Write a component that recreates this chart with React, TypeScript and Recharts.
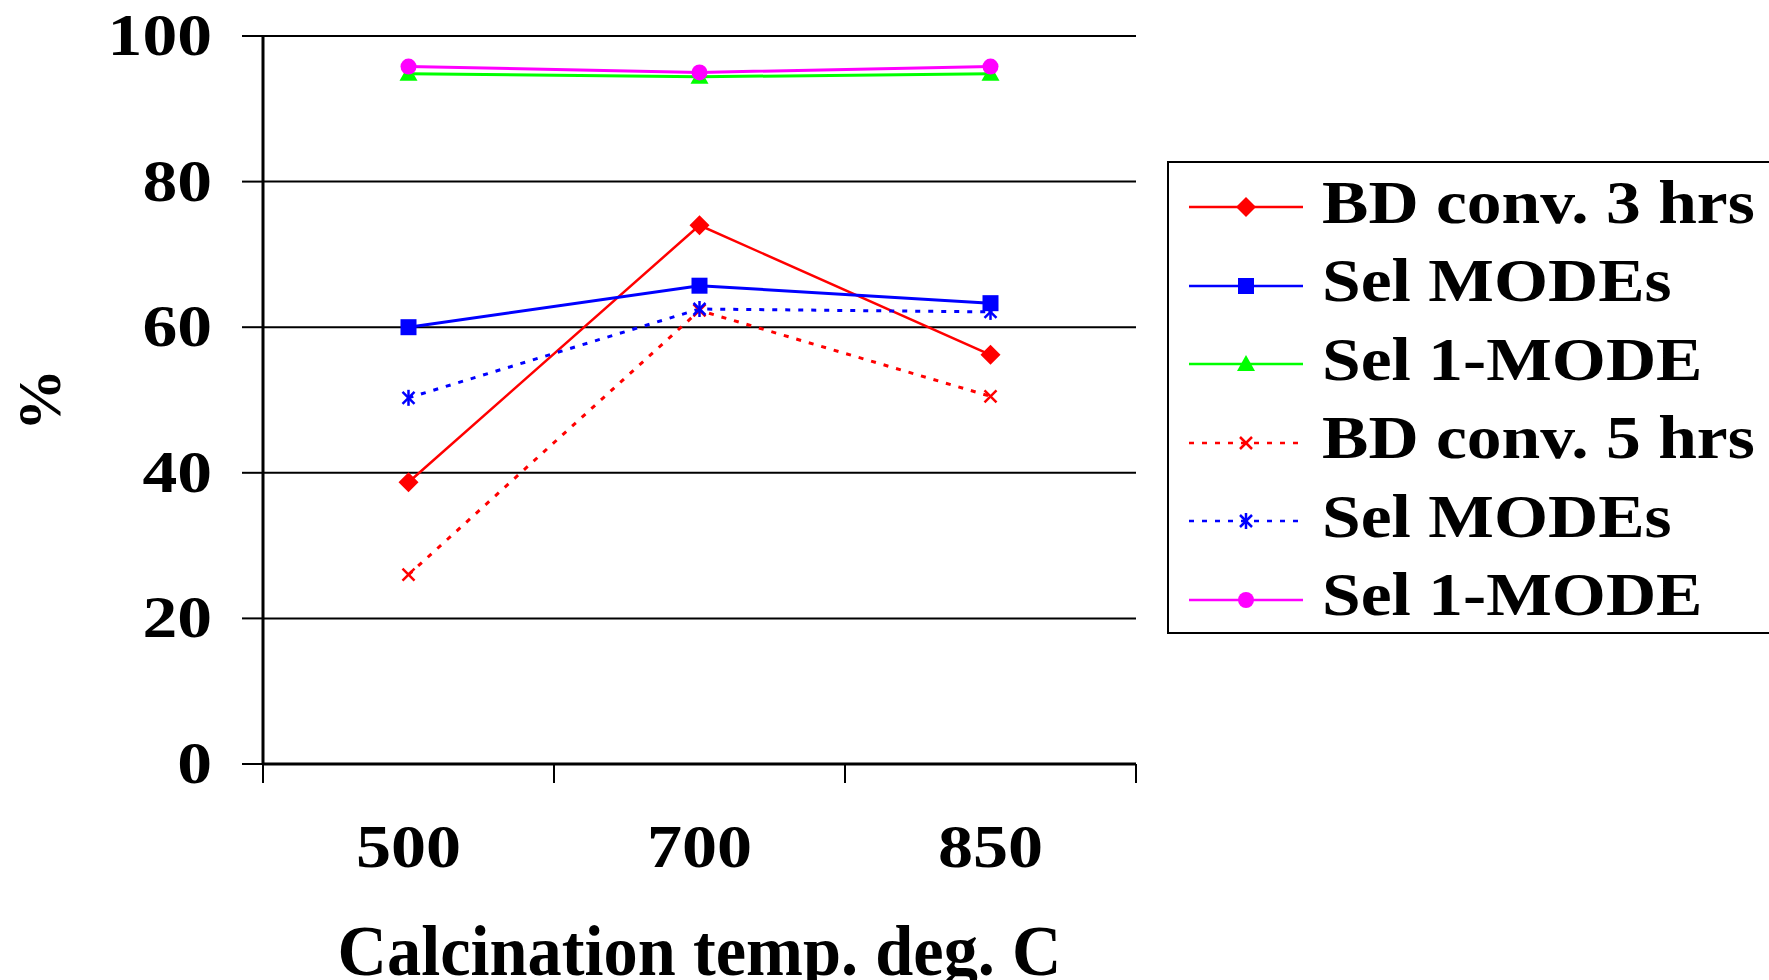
import React from "react";
import { CartesianGrid, Line, LineChart, XAxis, YAxis } from "recharts";

const categories = ["500", "700", "850"];
const bdConv3 = [38.7, 74.0, 56.2];
const selModes3 = [60.0, 65.7, 63.3];
const sel1Mode3 = [94.8, 94.4, 94.8];
const bdConv5 = [26.0, 62.3, 50.5];
const selModes5 = [50.3, 62.5, 62.1];
const sel1Mode5 = [95.8, 95.0, 95.8];
const yTicks = [0, 20, 40, 60, 80, 100];

type Shape = "diamond" | "square" | "triangle" | "cross" | "asterisk" | "circle";

const series: { key: string; name: string; values: number[]; color: string; dash?: string; width: number; shape: Shape }[] = [
  { key: "bd3", name: "BD conv. 3 hrs", values: bdConv3, color: "#FF0000", width: 2.5, shape: "diamond" },
  { key: "sel3", name: "Sel MODEs", values: selModes3, color: "#0000FF", width: 3, shape: "square" },
  { key: "one3", name: "Sel 1-MODE", values: sel1Mode3, color: "#00FF00", width: 3, shape: "triangle" },
  { key: "bd5", name: "BD conv. 5 hrs", values: bdConv5, color: "#FF0000", dash: "5 8", width: 3, shape: "cross" },
  { key: "sel5", name: "Sel MODEs", values: selModes5, color: "#0000FF", dash: "5 8", width: 3, shape: "asterisk" },
  { key: "one5", name: "Sel 1-MODE", values: sel1Mode5, color: "#FF00FF", width: 3, shape: "circle" },
];

const data = categories.map((temp, i) => {
  const row: Record<string, string | number> = { temp };
  series.forEach((s) => {
    row[s.key] = s.values[i];
  });
  return row;
});

const FONT = '"Liberation Serif", "Times New Roman", serif';
const WIDTH = 1769;
const HEIGHT = 980;
const MARGIN = { top: 36, right: 633, bottom: 0, left: 0 };
const Y_AXIS_WIDTH = 263;
const X_AXIS_HEIGHT = 216;
const PLOT_W = WIDTH - MARGIN.right - Y_AXIS_WIDTH;
const HALF_BAND = PLOT_W / categories.length / 2;

function Marker({ shape, cx, cy, color }: { shape: Shape; cx: number; cy: number; color: string }) {
  switch (shape) {
    case "diamond":
      return <polygon points={`${cx},${cy - 10} ${cx + 10},${cy} ${cx},${cy + 10} ${cx - 10},${cy}`} fill={color} />;
    case "square":
      return <rect x={cx - 8} y={cy - 8} width={16} height={16} fill={color} />;
    case "triangle":
      return <polygon points={`${cx},${cy - 9} ${cx + 9},${cy + 7} ${cx - 9},${cy + 7}`} fill={color} />;
    case "circle":
      return <circle cx={cx} cy={cy} r={8} fill={color} />;
    case "cross":
      return (
        <g stroke={color} strokeWidth={2.5}>
          <line x1={cx - 6} y1={cy - 6} x2={cx + 6} y2={cy + 6} />
          <line x1={cx - 6} y1={cy + 6} x2={cx + 6} y2={cy - 6} />
        </g>
      );
    default:
      return (
        <g stroke={color} strokeWidth={2.5}>
          <line x1={cx - 6} y1={cy - 6} x2={cx + 6} y2={cy + 6} />
          <line x1={cx - 6} y1={cy + 6} x2={cx + 6} y2={cy - 6} />
          <line x1={cx} y1={cy - 8} x2={cx} y2={cy + 8} />
        </g>
      );
  }
}

function XTick(props: any) {
  const { x, y, payload, index } = props;
  return (
    <g>
      <line x1={x - HALF_BAND} x2={x - HALF_BAND} y1={y} y2={y + 19} stroke="#000" strokeWidth={2} />
      {index === categories.length - 1 && (
        <line x1={x + HALF_BAND} x2={x + HALF_BAND} y1={y} y2={y + 19} stroke="#000" strokeWidth={2} />
      )}
      <text
        transform={`translate(${x},${y + 103}) scale(1.15,1)`}
        textAnchor="middle"
        fontFamily={FONT}
        fontWeight="bold"
        fontSize={61}
        fill="#000"
      >
        {payload.value}
      </text>
    </g>
  );
}

function YTick(props: any) {
  const { x, y, payload } = props;
  return (
    <text
      transform={`translate(${x},${y + 19}) scale(1.16,1)`}
      textAnchor="end"
      fontFamily={FONT}
      fontWeight="bold"
      fontSize={60}
      fill="#000"
    >
      {payload.value}
    </text>
  );
}

function LegendBox() {
  return (
    <div
      style={{
        position: "absolute",
        left: 1167,
        top: 161,
        width: 640,
        height: 473,
        boxSizing: "border-box",
        border: "2px solid #000",
        paddingTop: 5,
        background: "#fff",
      }}
    >
      {series.map((s) => (
        <div key={s.key} style={{ height: 78.5, display: "flex", alignItems: "center" }}>
          <svg width={116} height={30} style={{ marginLeft: 20, flex: "none" }}>
            <line x1={0} x2={114} y1={15} y2={15} stroke={s.color} strokeWidth={2.5} strokeDasharray={s.dash} />
            <Marker shape={s.shape} cx={57} cy={15} color={s.color} />
          </svg>
          <span
            style={{
              marginLeft: 17,
              display: "inline-block",
              position: "relative",
              top: -5,
              fontFamily: FONT,
              fontWeight: "bold",
              fontSize: 61,
              lineHeight: 1,
              whiteSpace: "nowrap",
              transform: "scaleX(1.14)",
              transformOrigin: "left center",
            }}
          >
            {s.name}
          </span>
        </div>
      ))}
    </div>
  );
}

export default function App() {
  return (
    <div style={{ position: "absolute", left: 0, top: 0, width: WIDTH, height: HEIGHT, overflow: "hidden", background: "#fff" }}>
      <LineChart width={WIDTH} height={HEIGHT} data={data} margin={MARGIN}>
        <CartesianGrid vertical={false} stroke="#000" strokeWidth={2} />
        <XAxis
          dataKey="temp"
          height={X_AXIS_HEIGHT}
          padding={{ left: HALF_BAND, right: HALF_BAND }}
          interval={0}
          tickLine={false}
          tickSize={0}
          tickMargin={0}
          axisLine={{ stroke: "#000", strokeWidth: 3 }}
          tick={<XTick />}
          label={{
            content: () => (
              <text
                transform={`translate(${Y_AXIS_WIDTH + PLOT_W / 2},975) scale(0.95,1)`}
                textAnchor="middle"
                fontFamily={FONT}
                fontWeight="bold"
                fontSize={72}
                fill="#000"
              >
                Calcination temp. deg. C
              </text>
            ),
          }}
        />
        <YAxis
          width={Y_AXIS_WIDTH}
          domain={[0, 100]}
          ticks={yTicks}
          interval={0}
          tickSize={21}
          tickMargin={30}
          tickLine={{ stroke: "#000", strokeWidth: 2 }}
          axisLine={{ stroke: "#000", strokeWidth: 3 }}
          tick={<YTick />}
          label={{
            content: () => (
              <text
                transform="translate(60,400) rotate(-90)"
                textAnchor="middle"
                fontFamily={FONT}
                fontWeight="bold"
                fontSize={62}
                fill="#000"
              >
                %
              </text>
            ),
          }}
        />
        <YAxis
          yAxisId="frame"
          orientation="right"
          width={0}
          domain={[0, 100]}
          tick={false}
          tickLine={false}
          axisLine={{ stroke: "#000", strokeWidth: 2 }}
        />
        {series.map((s) => (
          <Line
            key={s.key}
            dataKey={s.key}
            name={s.name}
            type="linear"
            stroke={s.color}
            strokeWidth={s.width}
            strokeDasharray={s.dash}
            isAnimationActive={false}
            activeDot={false}
            dot={(p: any) => <Marker key={`${s.key}-${p.index}`} shape={s.shape} cx={p.cx} cy={p.cy} color={s.color} />}
          />
        ))}
      </LineChart>
      <LegendBox />
    </div>
  );
}
